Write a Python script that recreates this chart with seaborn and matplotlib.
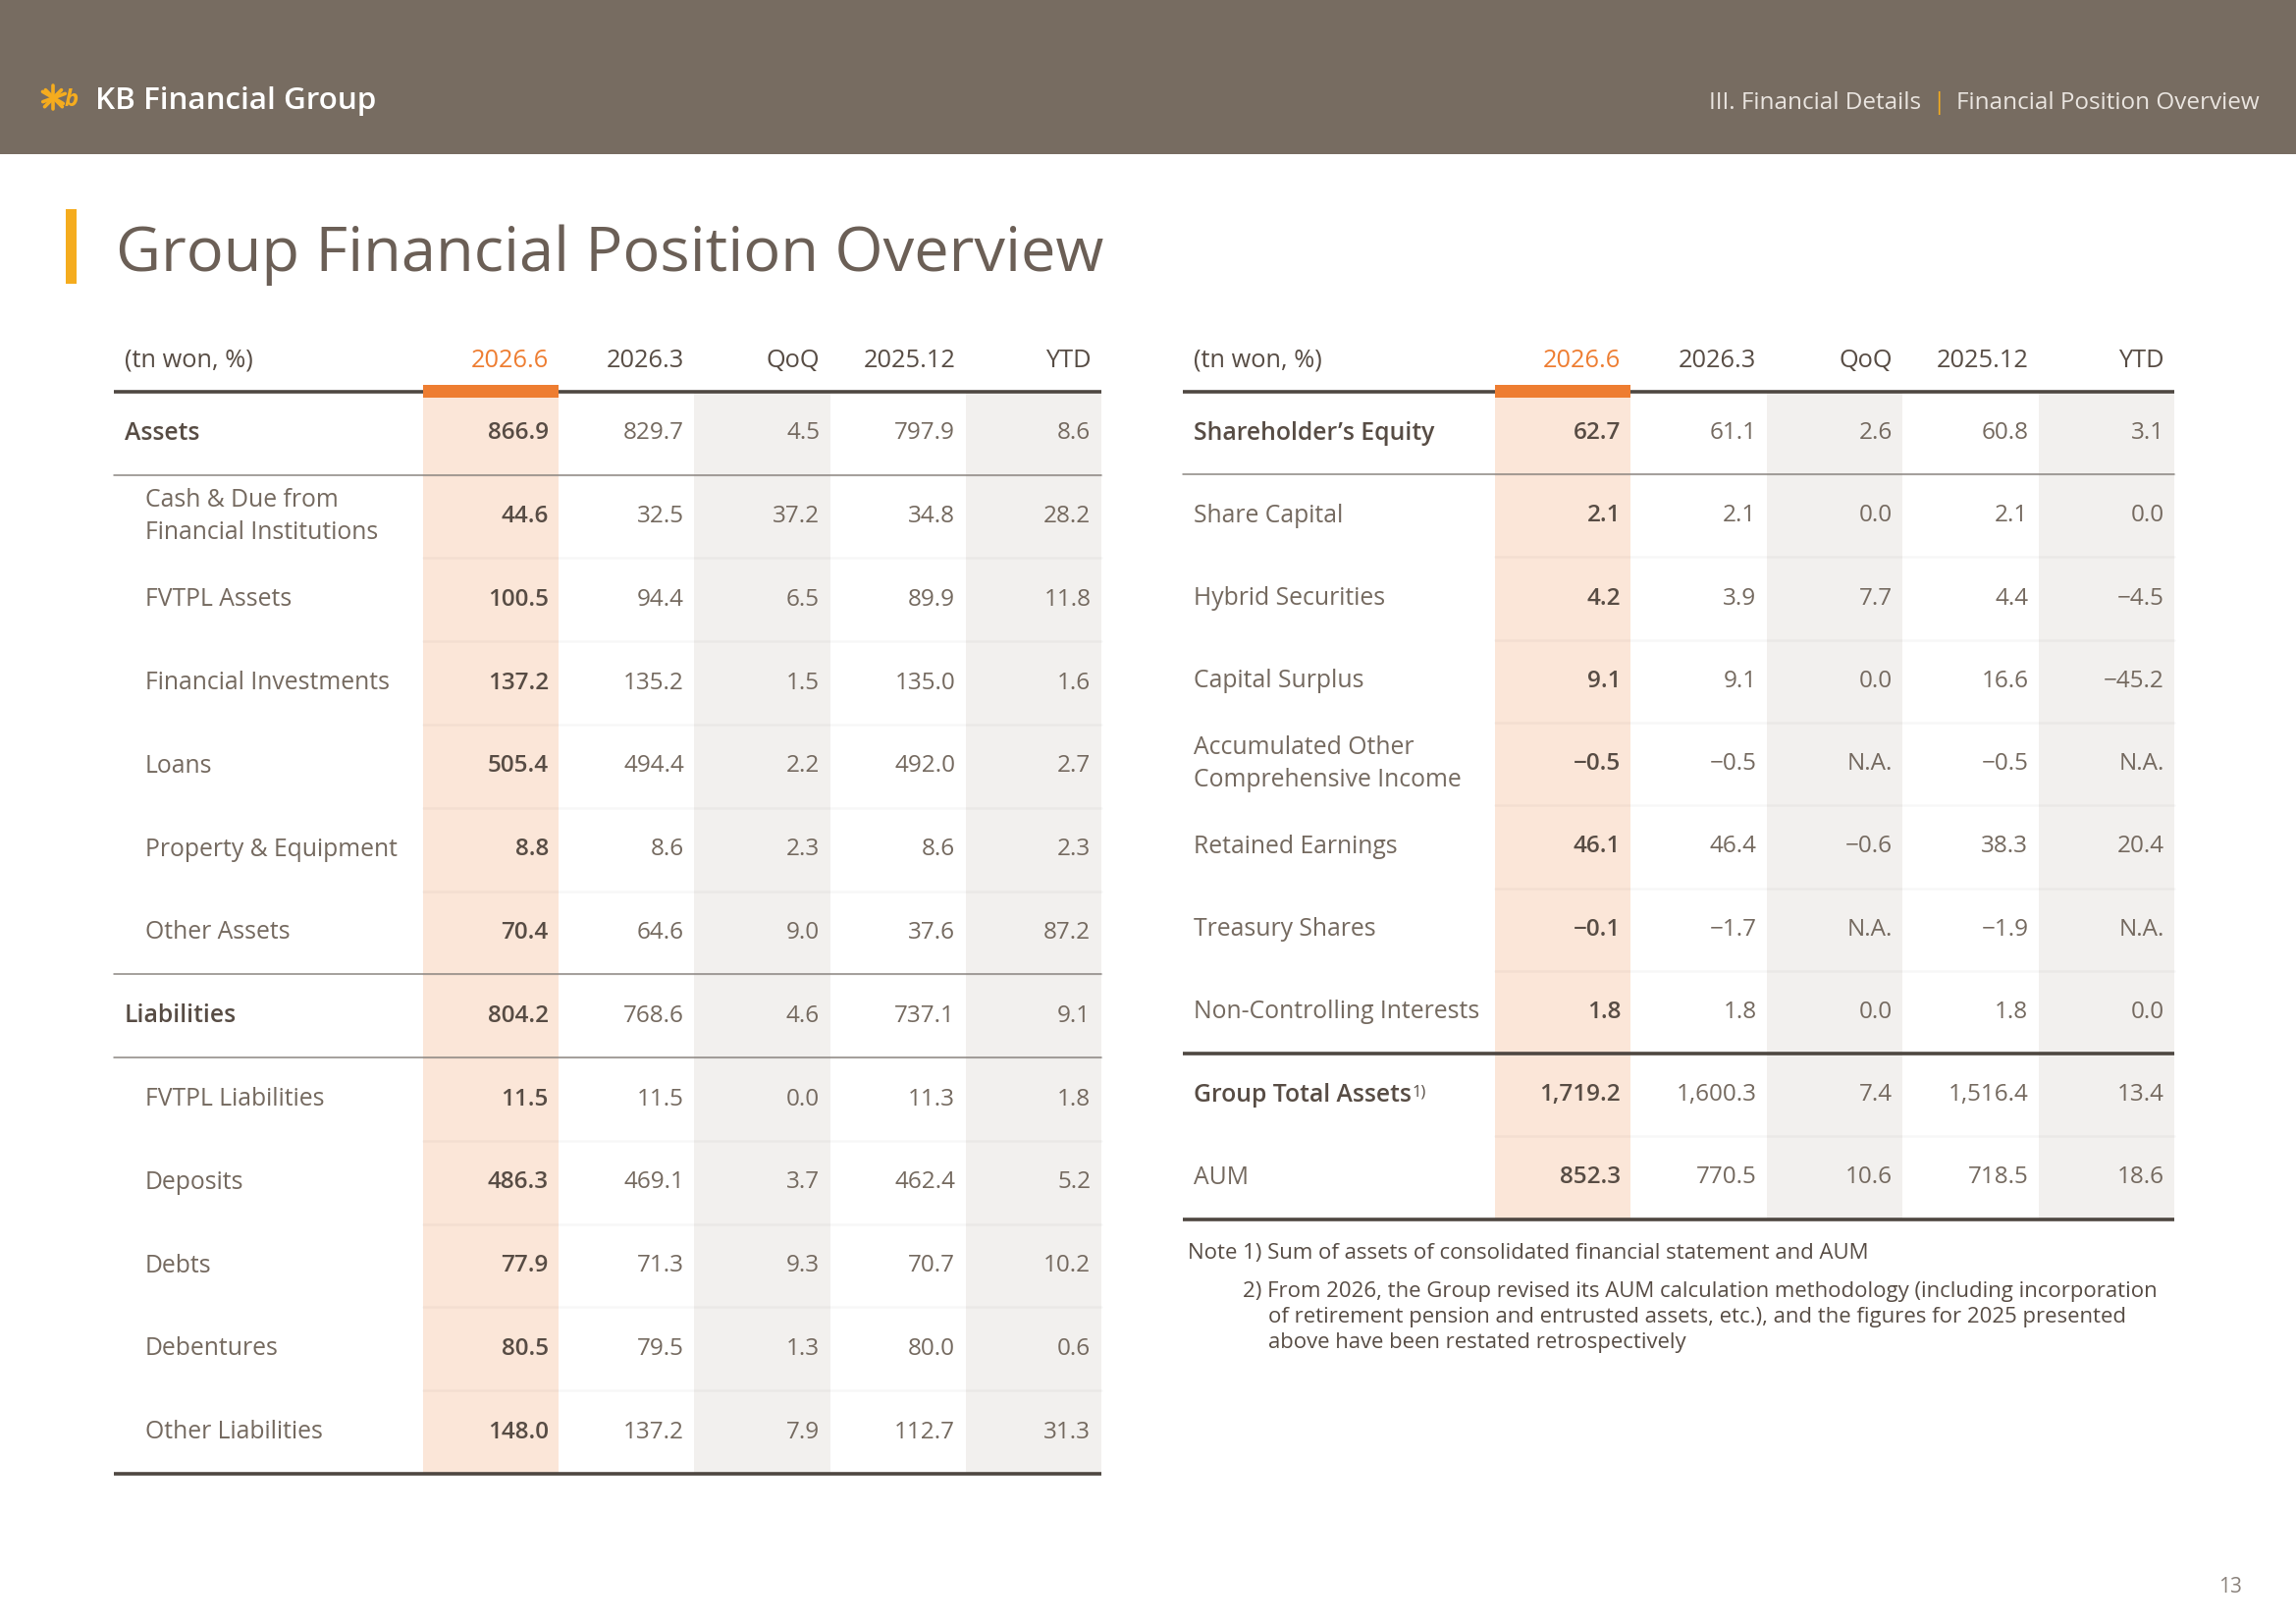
import numpy as np
import pandas as pd
import matplotlib
matplotlib.use("Agg")
import matplotlib.pyplot as plt
import seaborn as sns
from matplotlib.colors import ListedColormap
from matplotlib.patches import Rectangle

# ---------------- data ----------------
columns = ["2026.6", "2026.3", "QoQ", "2025.12", "YTD"]
unit_label = "(tn won, %)"

left_labels = ["Assets", "Cash & Due from\nFinancial Institutions", "FVTPL Assets",
               "Financial Investments", "Loans", "Property & Equipment", "Other Assets",
               "Liabilities", "FVTPL Liabilities", "Deposits", "Debts", "Debentures",
               "Other Liabilities"]
left_bold = [True, False, False, False, False, False, False, True, False, False, False, False, False]
left_2026_6 = [866.9, 44.6, 100.5, 137.2, 505.4, 8.8, 70.4, 804.2, 11.5, 486.3, 77.9, 80.5, 148.0]
left_2026_3 = [829.7, 32.5, 94.4, 135.2, 494.4, 8.6, 64.6, 768.6, 11.5, 469.1, 71.3, 79.5, 137.2]
left_qoq = [4.5, 37.2, 6.5, 1.5, 2.2, 2.3, 9.0, 4.6, 0.0, 3.7, 9.3, 1.3, 7.9]
left_2025_12 = [797.9, 34.8, 89.9, 135.0, 492.0, 8.6, 37.6, 737.1, 11.3, 462.4, 70.7, 80.0, 112.7]
left_ytd = [8.6, 28.2, 11.8, 1.6, 2.7, 2.3, 87.2, 9.1, 1.8, 5.2, 10.2, 0.6, 31.3]

right_labels = ["Shareholder\u2019s Equity", "Share Capital", "Hybrid Securities", "Capital Surplus",
                "Accumulated Other\nComprehensive Income", "Retained Earnings", "Treasury Shares",
                "Non-Controlling Interests", "Group Total Assets", "AUM"]
right_bold = [True, False, False, False, False, False, False, False, True, False]
right_2026_6 = [62.7, 2.1, 4.2, 9.1, -0.5, 46.1, -0.1, 1.8, 1719.2, 852.3]
right_2026_3 = [61.1, 2.1, 3.9, 9.1, -0.5, 46.4, -1.7, 1.8, 1600.3, 770.5]
right_qoq = [2.6, 0.0, 7.7, 0.0, None, -0.6, None, 0.0, 7.4, 10.6]
right_2025_12 = [60.8, 2.1, 4.4, 16.6, -0.5, 38.3, -1.9, 1.8, 1516.4, 718.5]
right_ytd = [3.1, 0.0, -4.5, -45.2, None, 20.4, None, 0.0, 13.4, 18.6]

notes = ["Note 1) Sum of assets of consolidated financial statement and AUM",
         "2) From 2026, the Group revised its AUM calculation methodology (including incorporation",
         "of retirement pension and entrusted assets, etc.), and the figures for 2025 presented",
         "above have been restated retrospectively"]

page_title = "Group Financial Position Overview"
brand = "KB Financial Group"
section = "III. Financial Details"
subsection = "Financial Position Overview"
page_no = "13"

# ---------------- style ----------------
sns.set_theme(style="white")
FAM = ["Open Sans", "DejaVu Sans"]
plt.rcParams["font.family"] = FAM

HEADER_BG = "#776C61"
TXT_DARK = "#574C44"
TXT_VAL = "#74695F"
ORANGE = "#EE7D31"
YELLOW = "#F5AC1E"
BAND_OR = "#FBE6D8"
BAND_GR = "#F2F0EE"
RULE = "#4E4741"
THIN = "#8C8681"

W, H = 1568, 1103
fig = plt.figure(figsize=(23.39, 16.54), dpi=100)
main = fig.add_axes([0, 0, 1, 1])
main.set_xlim(0, W)
main.set_ylim(H, 0)
main.set_axis_off()

PT = 1.074  # display px -> pt

# header band
main.add_patch(Rectangle((0, 0), W, 105, color=HEADER_BG, lw=0))
# logo star
cx, cy, r = 36.5, 66.5, 8.5
for ang in [90, 20, 150, 225, 315]:
    a = np.deg2rad(ang)
    main.plot([cx - r * np.cos(a) * 0.9, cx + r * np.cos(a)], [cy + r * np.sin(a) * 0.9, cy - r * np.sin(a)],
              color=YELLOW, lw=2.6, solid_capstyle="round")
main.text(44, 68, "b", color=YELLOW, fontsize=16 * PT, fontweight="bold", fontstyle="italic",
          ha="left", va="center")
t_brand = main.text(65, 69, brand, color="white", fontsize=21 * PT, fontweight="semibold",
                    ha="left", va="center")

SFS = 16.3 * PT
t_sub = main.text(1543, 70, subsection, color="#EAE5E0", fontsize=SFS, fontweight="normal",
                  ha="right", va="center")

# title
main.add_patch(Rectangle((45, 142), 7, 51, color=YELLOW, lw=0))
main.text(79, 184, page_title, color="#6B5F56", fontsize=42.4 * PT, fontweight="medium",
          ha="left", va="baseline")

main.text(1531, 1078, page_no, color="#8A827C", fontsize=14 * PT, ha="right", va="center")

# notes
NFS = 14.8 * PT
main.text(811, 851, notes[0], color=TXT_DARK, fontsize=NFS, ha="left", va="center")
main.text(849, 877, notes[1], color=TXT_DARK, fontsize=NFS, ha="left", va="center")
main.text(866, 894.5, notes[2], color=TXT_DARK, fontsize=NFS, ha="left", va="center")
main.text(866, 912, notes[3], color=TXT_DARK, fontsize=NFS, ha="left", va="center")


def fmt(v):
    if v is None:
        return "N.A."
    s = f"{abs(v):,.1f}"
    return ("\u2212" + s) if v < 0 else s


def draw_table(x0, x1, y0, y1, label_x0, label_x, labels, bold, cols_data, thin_after, thick_after,
               indent_x=None):
    nrows = len(labels)
    ax = fig.add_axes([x0 / W, 1 - y1 / H, (x1 - x0) / W, (y1 - y0) / H])
    band = pd.DataFrame([[1, 0, 2, 0, 2]] * nrows, columns=columns)
    sns.heatmap(band, ax=ax, cmap=ListedColormap(["#FFFFFF", BAND_OR, BAND_GR]), vmin=-0.5, vmax=2.5,
                cbar=False, xticklabels=False, yticklabels=False, linewidths=0)
    ax.tick_params(length=0)
    cw = (x1 - x0) / 5.0
    rh = (y1 - y0) / nrows
    dx = lambda xd: (xd - x0) / cw
    lx0 = dx(label_x0)

    # faint row separators (visible in the shaded columns)
    for i in range(1, nrows):
        ax.plot([0, 5], [i, i], color="black", alpha=0.03, lw=1.8, clip_on=False, zorder=3)
    for i in thin_after:
        ax.plot([lx0, 5], [i, i], color=THIN, lw=1.1, clip_on=False, zorder=4)
    for i in thick_after:
        ax.plot([lx0, 5], [i, i], color=RULE, lw=2.6, clip_on=False, zorder=4, solid_capstyle="butt")
    ax.plot([lx0, 5], [0, 0], color=RULE, lw=2.6, clip_on=False, zorder=4, solid_capstyle="butt")
    ax.plot([lx0, 5], [nrows, nrows], color=RULE, lw=2.6, clip_on=False, zorder=4, solid_capstyle="butt")
    ax.add_patch(Rectangle((0, -4.6 / rh), 1, 8.8 / rh, color=ORANGE, lw=0, clip_on=False, zorder=5))

    pad = 7.0 / cw
    hy = -21.0 / rh
    ax.text(dx(label_x), hy, unit_label, color=TXT_DARK, fontsize=17 * PT, ha="left", va="center")
    for j, c in enumerate(columns):
        ax.text(j + 1 - pad, hy, c, color=ORANGE if j == 0 else TXT_DARK, fontsize=17 * PT,
                ha="right", va="center")

    label_objs = []
    for i, lab in enumerate(labels):
        xl = dx(label_x if (bold[i] or indent_x is None) else indent_x)
        t = ax.text(xl, i + 0.5, lab, color=TXT_DARK if bold[i] else TXT_VAL, fontsize=16.6 * PT,
                    fontweight="semibold" if bold[i] else "normal", ha="left", va="center",
                    linespacing=1.4)
        label_objs.append(t)
        for j, series in enumerate(cols_data):
            ax.text(j + 1 - pad, i + 0.5, fmt(series[i]), color=TXT_DARK if j == 0 else TXT_VAL,
                    fontsize=16.3 * PT, fontweight="semibold" if j == 0 else "normal",
                    ha="right", va="center")
    return ax, label_objs


axL, _ = draw_table(289, 752, 266, 1001, 78, 85, left_labels, left_bold,
                    [left_2026_6, left_2026_3, left_qoq, left_2025_12, left_ytd],
                    thin_after=[1, 7, 8], thick_after=[], indent_x=99)
axR, labsR = draw_table(1021, 1485, 266, 828, 808, 815, right_labels, right_bold,
                        [right_2026_6, right_2026_3, right_qoq, right_2025_12, right_ytd],
                        thin_after=[1], thick_after=[8])

# measured placements
fig.canvas.draw()
ren = fig.canvas.get_renderer()
inv = main.transData.inverted()
bb = t_sub.get_window_extent(ren)
left_x = inv.transform((bb.x0, bb.y0))[0]
main.text(left_x - 12, 70, "|", color=YELLOW, fontsize=SFS, ha="center", va="center")
main.text(left_x - 24, 70, section, color="#EAE5E0", fontsize=SFS, ha="right", va="center")

bb = labsR[8].get_window_extent(ren)
p = inv.transform((bb.x1, bb.y1))
main.text(p[0] + 0.3, p[1] + 1, "1)", color=TXT_DARK, fontsize=11 * PT, ha="left", va="top")

fig.savefig("out.png", dpi=100)
